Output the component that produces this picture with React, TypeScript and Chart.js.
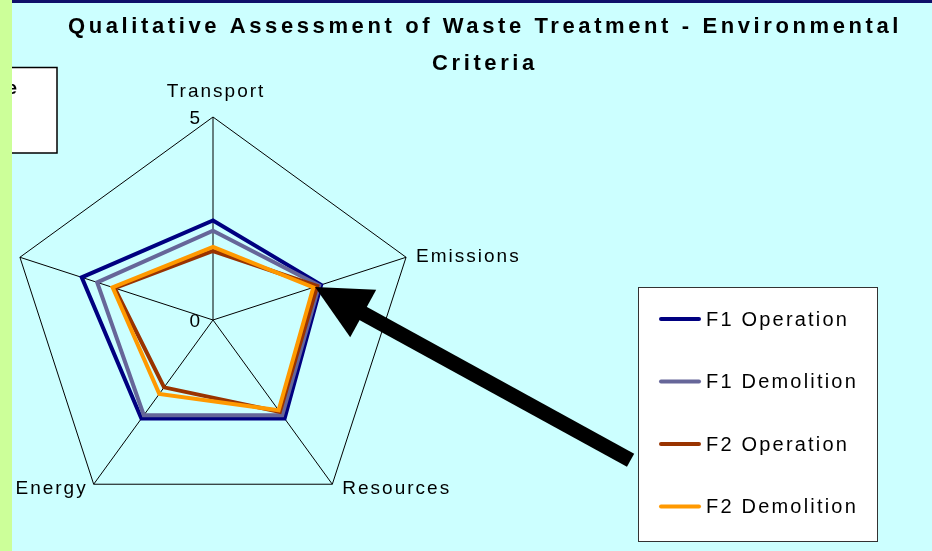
import React, { useEffect, useRef } from "react";
import { Chart, registerables } from "chart.js";

Chart.register(...registerables);

// ---------- data ----------
const titleLines = ["Qualitative Assessment of Waste Treatment - Environmental", "Criteria"];
const categories = ["Transport", "Emissions", "Resources", "Energy", ""];
const seriesNames = ["F1 Operation", "F1 Demolition", "F2 Operation", "F2 Demolition"];
const f1Operation = [2.45, 2.8, 3.0, 3.0, 3.4];
const f1Demolition = [2.2, 2.75, 2.9, 2.9, 3.0];
const f2Operation = [1.7, 2.7, 2.8, 2.05, 2.55];
const f2Demolition = [1.8, 2.6, 2.75, 2.25, 2.6];
const tickValues = [0, 5];
const sideNoteText = "e";

const seriesValues = [f1Operation, f1Demolition, f2Operation, f2Demolition];
const seriesColors = ["#000080", "#666699", "#993300", "#FF9900"];

const FONT = '"Liberation Sans", Arial, Helvetica, sans-serif';

function setSpacing(ctx: any, px: number) {
  try {
    ctx.letterSpacing = px + "px";
  } catch (e) {}
}

const decorPlugin = {
  id: "decor",
  beforeDraw(chart: any) {
    const ctx = chart.ctx;
    ctx.save();
    ctx.fillStyle = "#CCFFFF";
    ctx.fillRect(0, 0, chart.width, chart.height);
    ctx.restore();
  },
  afterDraw(chart: any) {
    const ctx = chart.ctx;
    const scale = chart.scales.r;
    const cx = scale.xCenter;
    const cy = scale.yCenter;

    ctx.save();
    ctx.fillStyle = "#000000";

    // tick labels (left of the vertical axis)
    ctx.font = "19px " + FONT;
    ctx.textAlign = "right";
    ctx.textBaseline = "alphabetic";
    setSpacing(ctx, 0);
    tickValues.forEach((v) => {
      const d = scale.getDistanceFromCenterForValue(v);
      ctx.fillText(String(v), cx - 13, cy - d + 7);
    });

    // point labels
    ctx.font = "19px " + FONT;
    setSpacing(ctx, 2);
    categories.forEach((label, i) => {
      if (!label) return;
      const p = scale.getPointPosition(i, scale.drawingArea);
      if (Math.abs(p.x - cx) < 5) {
        ctx.textAlign = "center";
        ctx.fillText(label, p.x + 3, p.y - 20);
      } else if (p.x > cx) {
        ctx.textAlign = "left";
        ctx.fillText(label, p.x + 10, p.y + (p.y > cy ? 10 : 5));
      } else {
        ctx.textAlign = "right";
        ctx.fillText(label, p.x - 6, p.y + (p.y > cy ? 10 : 5));
      }
    });
    setSpacing(ctx, 0);

    // arrow annotation
    const tip = { x: 315, y: 287 };
    const ang = Math.atan2(173.5, 316);
    const ux = Math.cos(ang), uy = Math.sin(ang);
    const px = -uy, py = ux;
    const headLen = 55, headHalf = 27, shaftHalf = 7.5, total = 360;
    const bx = tip.x + ux * headLen, by = tip.y + uy * headLen;
    ctx.fillStyle = "#000000";
    ctx.beginPath();
    ctx.moveTo(tip.x, tip.y);
    ctx.lineTo(bx + px * headHalf, by + py * headHalf);
    ctx.lineTo(bx - px * headHalf, by - py * headHalf);
    ctx.closePath();
    ctx.fill();
    const sx = tip.x + ux * (headLen - 6), sy = tip.y + uy * (headLen - 6);
    const ex = tip.x + ux * total, ey = tip.y + uy * total;
    ctx.beginPath();
    ctx.moveTo(sx + px * shaftHalf, sy + py * shaftHalf);
    ctx.lineTo(ex + px * shaftHalf, ey + py * shaftHalf);
    ctx.lineTo(ex - px * shaftHalf, ey - py * shaftHalf);
    ctx.lineTo(sx - px * shaftHalf, sy - py * shaftHalf);
    ctx.closePath();
    ctx.fill();

    // legend box
    ctx.fillStyle = "#FFFFFF";
    ctx.fillRect(638, 287, 239, 254);
    ctx.strokeStyle = "#333333";
    ctx.lineWidth = 1;
    ctx.strokeRect(638.5, 287.5, 239, 254);
    ctx.font = "20px " + FONT;
    ctx.textAlign = "left";
    ctx.textBaseline = "middle";
    setSpacing(ctx, 2.2);
    chart.data.datasets.forEach((ds: any, i: number) => {
      const y = 319 + i * 62.5;
      ctx.strokeStyle = ds.borderColor;
      ctx.lineWidth = 4;
      ctx.lineCap = "round";
      ctx.beginPath();
      ctx.moveTo(661, y);
      ctx.lineTo(699, y);
      ctx.stroke();
      ctx.fillStyle = "#000000";
      ctx.fillText(ds.label, 706, y + 1);
    });
    setSpacing(ctx, 0);
    ctx.lineCap = "butt";

    // clipped side note box
    ctx.fillStyle = "#FFFFFF";
    ctx.fillRect(0, 67, 57, 86);
    ctx.strokeStyle = "#000000";
    ctx.lineWidth = 1.5;
    ctx.strokeRect(-2, 67.5, 59, 85.5);
    ctx.fillStyle = "#000000";
    ctx.font = "bold 19px " + FONT;
    ctx.textAlign = "right";
    ctx.textBaseline = "alphabetic";
    ctx.fillText(sideNoteText, 17, 93.5);

    // frame strips
    ctx.fillStyle = "#CCFF99";
    ctx.fillRect(0, 0, 12, chart.height);
    ctx.fillStyle = "#10106A";
    ctx.fillRect(12, 0, chart.width - 12, 3);

    // title
    ctx.fillStyle = "#000000";
    ctx.font = "bold 22px " + FONT;
    ctx.textAlign = "center";
    ctx.textBaseline = "alphabetic";
    setSpacing(ctx, 3.6);
    titleLines.forEach((line, i) => {
      ctx.fillText(line, 485, 33 + i * 37);
    });
    setSpacing(ctx, 0);

    ctx.restore();
  },
};

export default function App() {
  const ref = useRef<HTMLCanvasElement | null>(null);

  useEffect(() => {
    if (!ref.current) return;
    const chart = new Chart(ref.current, {
      type: "radar",
      data: {
        labels: categories,
        datasets: seriesValues.map((vals, i) => ({
          label: seriesNames[i],
          data: vals,
          borderColor: seriesColors[i],
          backgroundColor: "transparent",
          borderWidth: 4,
          fill: false,
          pointRadius: 0,
          pointHoverRadius: 0,
          tension: 0,
          order: seriesValues.length - i,
        })),
      },
      plugins: [decorPlugin as any],
      options: {
        responsive: false,
        animation: false,
        devicePixelRatio: 1,
        layout: { padding: { left: 10, top: 117, right: 516, bottom: 28 } },
        plugins: {
          legend: { display: false },
          title: { display: false },
          tooltip: { enabled: false },
        },
        scales: {
          r: {
            min: 0,
            max: 5,
            ticks: { display: false, stepSize: 5 },
            pointLabels: { display: false },
            grid: { color: "#000000", lineWidth: 1 },
            angleLines: { color: "#000000", lineWidth: 1 },
          },
        },
      } as any,
    });
    return () => chart.destroy();
  }, []);

  return (
    <div style={{ position: "absolute", left: 0, top: 0, width: 932, height: 551 }}>
      <canvas ref={ref} width={932} height={551} style={{ display: "block", width: 932, height: 551 }} />
    </div>
  );
}
